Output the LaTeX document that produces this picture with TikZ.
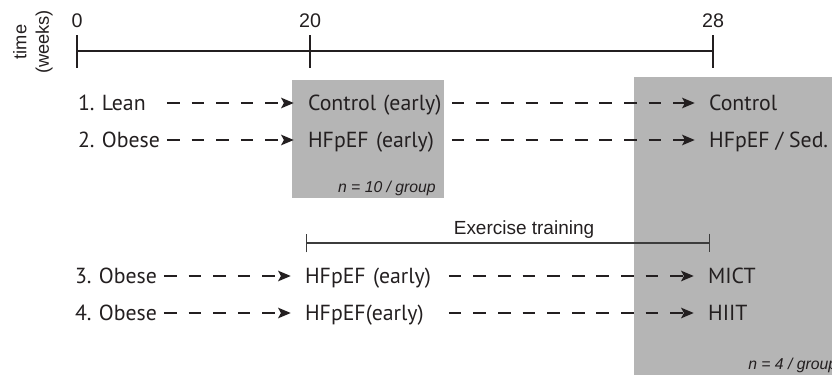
\documentclass[tikz,border=0pt]{standalone}
\usepackage{fontspec}
\setmainfont{PT Sans}
\newfontfamily\helv{Liberation Sans}
\usetikzlibrary{arrows.meta}
\definecolor{boxgray}{RGB}{181,181,181}
\definecolor{ink}{RGB}{35,31,32}
\frenchspacing
\tikzset{
	grp/.style={font=\fontsize{15.5}{18}\selectfont, text=ink, anchor=west, inner sep=2pt, text height=11pt, text depth=0pt, align=left},
	lead/.style={ink, line width=1.1pt, dash pattern=on 9pt off 8.5pt, shorten >=8pt, -{Stealth[length=9pt,width=7.5pt,inset=2pt]}},
	axis/.style={ink, line width=2.1pt},
	num/.style={font=\helv\fontsize{14}{15.5}\selectfont, text=ink, inner sep=1pt},
	nlab/.style={font=\helv\itshape\fontsize{11.2}{13}\selectfont, text=ink, inner sep=0pt},
	bracket/.style={draw={rgb,255:red,60;green,60;blue,60}, line width=1pt, {Bar[width=13.5pt]}-{Bar[width=13.5pt]}}
}
\begin{document}
\begin{tikzpicture}[x=0.025cm,y=-0.025cm]
	\useasboundingbox (0,0) rectangle (832,375);
	% shaded blocks
	\fill[boxgray] (292,80) rectangle (444,198);
	\fill[boxgray] (634,77) rectangle (832,375);
	% time axis
	\node[num, rotate=90, align=center, font=\helv\fontsize{13}{16}\selectfont] (time) at (33,42) {time\\(weeks)};
	\coordinate (t0) at (77,51);
	\coordinate (t20) at (310,51);
	\coordinate (t28) at (713,51);
	\draw[axis] (t0) -- (t28);
	\foreach \t/\lab in {t0/0,t20/20,t28/28}
		\draw[axis] ([yshift=-12pt]\t) -- ([yshift=11.5pt]\t) node[num, above=3pt] (l\t) {\lab};
	% groups
	\node[grp, text width=62pt] (g1) at (75,103) {1. Lean};
	\node[grp, text width=62pt] (g2) at (75,140) {2. Obese};
	\node[grp, text width=62pt] (g3) at (72,276) {3. Obese};
	\node[grp, text width=62pt] (g4) at (72,313) {4. Obese};
	\node[grp, text width=100pt] (ce) at (305,103) {Control (early)};
	\node[grp, text width=100pt] (he) at (305,140) {HFpEF (early)};
	\node[grp, text width=100pt] (h3) at (302,276) {HFpEF (early)};
	\node[grp, text width=100pt] (h4) at (302,313) {HFpEF(early)};
	\node[grp] (c) at (706,103) {Control};
	\node[grp] (hs) at (706,140) {HFpEF / Sed.};
	\node[grp] (mict) at (705,276) {MICT};
	\node[grp] (hiit) at (705,313) {HIIT};
	\foreach \a/\b/\c in {g1/ce/c,g2/he/hs,g3/h3/mict,g4/h4/hiit}{
		\draw[lead, shorten <=-1pt] (\a) -- (\b);
		\draw[lead] (\b) -- (\c);
	}
	\node[nlab, anchor=base east] (n10) at (436,192) {n = 10 / group};
	% training period
	\coordinate (ex0) at (306,243);
	\coordinate (ex1) at (710,243);
	\draw[bracket] (ex0) -- (ex1);
	\node[num, font=\helv\fontsize{13.5}{15}\selectfont, anchor=base] (ex) at (524,234) {Exercise training};
	\node[nlab, anchor=base west] (n4) at (748,369) {n = 4 / group};
\end{tikzpicture}
\end{document}
